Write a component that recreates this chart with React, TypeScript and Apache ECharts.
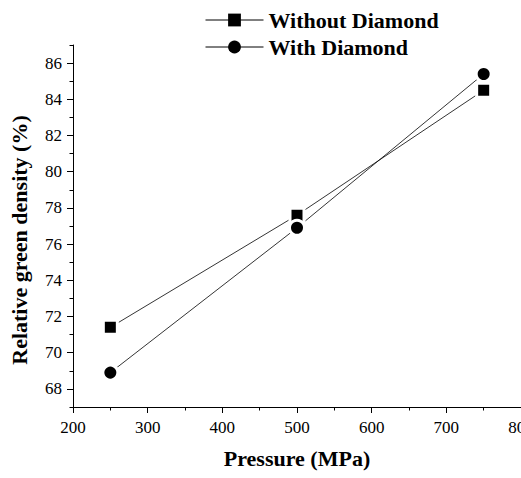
import React, { useEffect, useRef } from "react";
import * as echarts from "echarts";

const pressures = [250, 500, 750];
const withoutDiamond = [71.4, 77.6, 84.5];
const withDiamond = [68.9, 76.9, 85.4];
const yMajorTicks = [68, 70, 72, 74, 76, 78, 80, 82, 84, 86];
const seriesNames = ["Without Diamond", "With Diamond"];
const xAxisTitle = "Pressure (MPa)";
const yAxisTitle = "Relative green density (%)";

const FONT = "Liberation Serif";

export default function App() {
  const ref = useRef<HTMLDivElement>(null);
  useEffect(() => {
    if (!ref.current) return;
    const chart = echarts.init(ref.current, undefined, { renderer: "svg" });
    const black = "#000";
    chart.setOption({
      animation: false,
      backgroundColor: "#fff",
      textStyle: { fontFamily: FONT },
      grid: { left: 73, top: 45, right: 0, bottom: 71, outerBoundsMode: "none", containLabel: false },
      legend: {
        orient: "vertical",
        left: 200,
        top: 4,
        itemWidth: 58,
        itemHeight: 16,
        itemGap: 5,
        data: seriesNames,
        textStyle: { fontFamily: FONT, fontSize: 22, fontWeight: "bold", color: black },
        itemStyle: { borderWidth: 0 },
        lineStyle: { width: 1, color: black },
      },
      xAxis: {
        type: "value",
        min: 200,
        max: 800,
        interval: 100,
        name: xAxisTitle,
        nameLocation: "middle",
        nameGap: 40,
        nameTextStyle: { fontFamily: FONT, fontSize: 22, fontWeight: "bold", color: black },
        axisLine: { show: true, onZero: false, lineStyle: { color: black, width: 1 } },
        axisTick: { show: true, length: 6, lineStyle: { color: black, width: 1 } },
        minorTick: { show: true, splitNumber: 2, length: 3.5, lineStyle: { color: black, width: 1 } },
        axisLabel: { fontFamily: FONT, fontSize: 17, color: black, margin: 12 },
        splitLine: { show: false },
        minorSplitLine: { show: false },
      },
      yAxis: [
        {
          type: "value",
          min: 67,
          max: 87,
          interval: 1,
          axisLine: { show: true, onZero: false, lineStyle: { color: black, width: 1 } },
          axisTick: { show: true, length: 3.5, lineStyle: { color: black, width: 1 } },
          axisLabel: {
            fontFamily: FONT,
            fontSize: 17,
            color: black,
            margin: 11,
            formatter: (v: number) => (v % 2 === 0 ? String(v) : ""),
          },
          splitLine: { show: false },
        },
        {
          type: "value",
          min: 67,
          max: 87,
          position: "left",
          offset: 0,
          axisLine: { show: false },
          axisTick: { show: true, length: 6, customValues: yMajorTicks, lineStyle: { color: black, width: 1 } },
          axisLabel: { show: false },
          splitLine: { show: false },
        },
      ],
      graphic: [
        {
          type: "text",
          x: 19,
          y: 240,
          rotation: Math.PI / 2,
          style: {
            text: yAxisTitle,
            fontFamily: FONT,
            fontSize: 22,
            fontWeight: "bold",
            fill: black,
            align: "center",
            verticalAlign: "middle",
          },
        },
      ],
      series: [
        {
          name: seriesNames[0],
          type: "line",
          yAxisIndex: 0,
          data: pressures.map((p, i) => [p, withoutDiamond[i]]),
          symbol: "rect",
          symbolSize: 14,
          itemStyle: { color: black, borderColor: "#fff", borderWidth: 3 },
          lineStyle: { color: black, width: 0.8 },
        },
        {
          name: seriesNames[1],
          type: "line",
          yAxisIndex: 0,
          data: pressures.map((p, i) => [p, withDiamond[i]]),
          symbol: "circle",
          symbolSize: 15,
          itemStyle: { color: black, borderColor: "#fff", borderWidth: 3 },
          lineStyle: { color: black, width: 0.8 },
        },
      ],
    });
    return () => chart.dispose();
  }, []);
  return (
    <div
      ref={ref}
      style={{ position: "fixed", left: 0, top: 0, width: 521, height: 478, background: "#fff" }}
    />
  );
}
